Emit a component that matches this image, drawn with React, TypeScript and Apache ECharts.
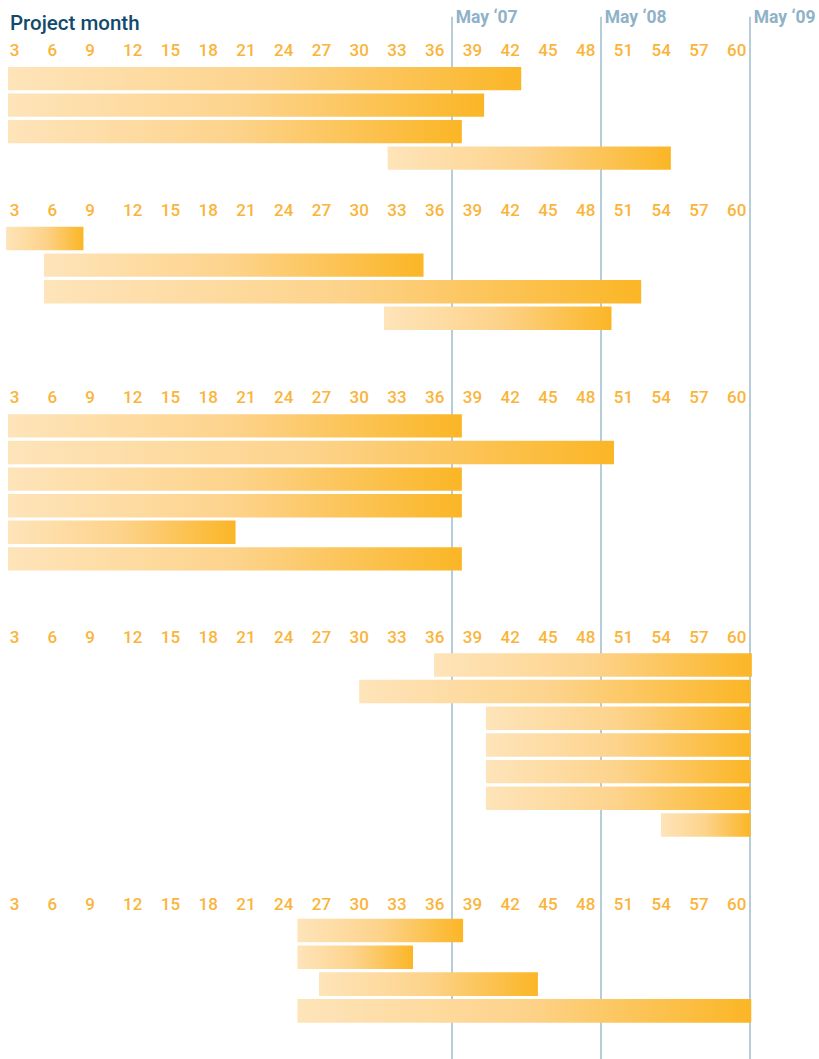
import React, { useEffect, useRef } from "react";
import * as echarts from "echarts";

// ---- data (months) ----
const group1Start = [0, 0, 0, 30.7];
const group1End = [41.5, 38.5, 36.7, 53.6];
const group2Start = [-0.15, 2.9, 2.9, 30.4];
const group2End = [6.1, 33.6, 51.2, 48.8];
const group3Start = [0, 0, 0, 0, 0, 0];
const group3End = [36.7, 49.0, 36.7, 36.7, 18.4, 36.7];
const group4Start = [34.45, 28.4, 38.65, 38.65, 38.65, 38.65, 52.8];
const group4End = [60.15, 60.05, 60.05, 60.05, 60.05, 60.05, 60.05];
const group5Start = [23.4, 23.4, 25.15, 23.4];
const group5End = [36.8, 32.75, 42.85, 60.1];

const milestoneMonths = [36, 48, 60];
const milestoneLabels = ["May \u201807", "May \u201808", "May \u201809"];
const titleText = "Project month";

const groupStarts = [group1Start, group2Start, group3Start, group4Start, group5Start];
const groupEnds = [group1End, group2End, group3End, group4End, group5End];

// layout (pixels)
const barGridTops = [65.45, 225.2, 412.6, 651.6, 917.1];
const bandHeight = [26.5, 26.6, 26.6, 26.67, 26.8];
const labelRowCenters = [49.8, 210, 396.7, 636.7, 904];

const ORANGE_TEXT = "#fbb43a";
const LINE_COLOR = "#a9c4d4";
const MAY_COLOR = "#8fb2c8";
const FONT = "Roboto, 'Noto Sans', sans-serif";

export default function App() {
  const ref = useRef<HTMLDivElement>(null);

  useEffect(() => {
    if (!ref.current) return;
    const chart = echarts.init(ref.current, undefined, { renderer: "svg" });

    const grids: any[] = [];
    const xAxes: any[] = [];
    const yAxes: any[] = [];
    const series: any[] = [];

    // grid 0: milestone lines
    grids.push({ left: 4.7, right: 69.3, top: 16.7, bottom: 0 });
    xAxes.push({
      gridIndex: 0,
      type: "value",
      position: "top",
      min: 0,
      max: 60,
      interval: 12,
      axisLine: { show: false },
      axisTick: { show: false },
      splitLine: { show: false },
      axisLabel: {
        show: true,
        margin: 0,
        showMinLabel: true,
        showMaxLabel: true,
        align: "left",
        verticalAlign: "middle",
        padding: [0, 0, 0, 4],
        color: MAY_COLOR,
        fontFamily: FONT,
        fontWeight: "bold",
        fontSize: 17.5,
        formatter: (v: number) => {
          const i = milestoneMonths.indexOf(v);
          return i >= 0 ? milestoneLabels[i] : "";
        },
      },
    });
    yAxes.push({ gridIndex: 0, type: "value", min: 0, max: 1, show: false });
    series.push({
      type: "line",
      xAxisIndex: 0,
      yAxisIndex: 0,
      data: [[0, -5]],
      symbol: "none",
      symbolSize: 0,
      showSymbol: false,
      lineStyle: { width: 0 },
      z: 1,
      silent: true,
      markLine: {
        silent: true,
        z: 1,
        symbol: ["none", "none"],
        label: { show: false },
        lineStyle: { color: LINE_COLOR, width: 1.7, type: "solid" },
        data: milestoneMonths.map((m) => ({ xAxis: m })),
      },
    });

    const gradient = new echarts.graphic.LinearGradient(0, 0, 1, 0, [
      { offset: 0, color: "#fee4ba" },
      { offset: 0.5, color: "#fdd38b" },
      { offset: 1, color: "#fbb626" },
    ]);

    // bar grids 1..5
    for (let g = 0; g < 5; g++) {
      const n = groupStarts[g].length;
      const gi = grids.length;
      grids.push({
        left: 5.53,
        right: 66.52,
        top: barGridTops[g],
        height: n * bandHeight[g],
      });
      xAxes.push({
        gridIndex: gi,
        type: "value",
        min: -0.2,
        max: 60.2,
        show: false,
        splitLine: { show: false },
      });
      yAxes.push({
        gridIndex: gi,
        type: "category",
        inverse: true,
        data: groupStarts[g].map((_, i) => `T${g + 1}.${i + 1}`),
        show: false,
      });
      series.push({
        type: "custom",
        xAxisIndex: gi,
        yAxisIndex: gi,
        z: 10,
        encode: { x: [1, 2], y: 0 },
        data: groupStarts[g].map((s, i) => [i, s, groupEnds[g][i]]),
        renderItem: (params: any, api: any) => {
          const cat = api.value(0);
          const p0 = api.coord([api.value(1), cat]);
          const p1 = api.coord([api.value(2), cat]);
          const h = api.size([0, 1])[1] * 0.88;
          return {
            type: "rect",
            shape: { x: p0[0], y: p0[1] - h / 2, width: p1[0] - p0[0], height: h },
            style: { fill: gradient },
          };
        },
      });
    }

    // label grids 6..10
    for (let g = 0; g < 5; g++) {
      const gi = grids.length;
      grids.push({
        left: 9.8,
        right: 92,
        top: labelRowCenters[g] - 10,
        height: 10,
      });
      xAxes.push({
        gridIndex: gi,
        type: "value",
        position: "bottom",
        min: 3,
        max: 60,
        interval: 3,
        axisLine: { show: false },
        axisTick: { show: false },
        splitLine: { show: false },
        axisLabel: {
          show: true,
          margin: 0,
          showMinLabel: true,
          showMaxLabel: true,
          align: "left",
          verticalAlign: "middle",
          color: ORANGE_TEXT,
          fontFamily: FONT,
          fontWeight: 500,
          fontSize: 17,
        },
      });
      yAxes.push({ gridIndex: gi, type: "value", min: 0, max: 1, show: false });
    }

    chart.setOption({
      animation: false,
      backgroundColor: "#ffffff",
      title: {
        text: titleText,
        left: 10,
        top: 12,
        padding: 0,
        textStyle: {
          color: "#134a6c",
          fontFamily: FONT,
          fontWeight: 500,
          fontSize: 20.5,
        },
      },
      grid: grids,
      xAxis: xAxes,
      yAxis: yAxes,
      series,
    });

    return () => chart.dispose();
  }, []);

  return (
    <div
      ref={ref}
      style={{ position: "fixed", left: 0, top: 0, width: 819, height: 1059 }}
    />
  );
}
